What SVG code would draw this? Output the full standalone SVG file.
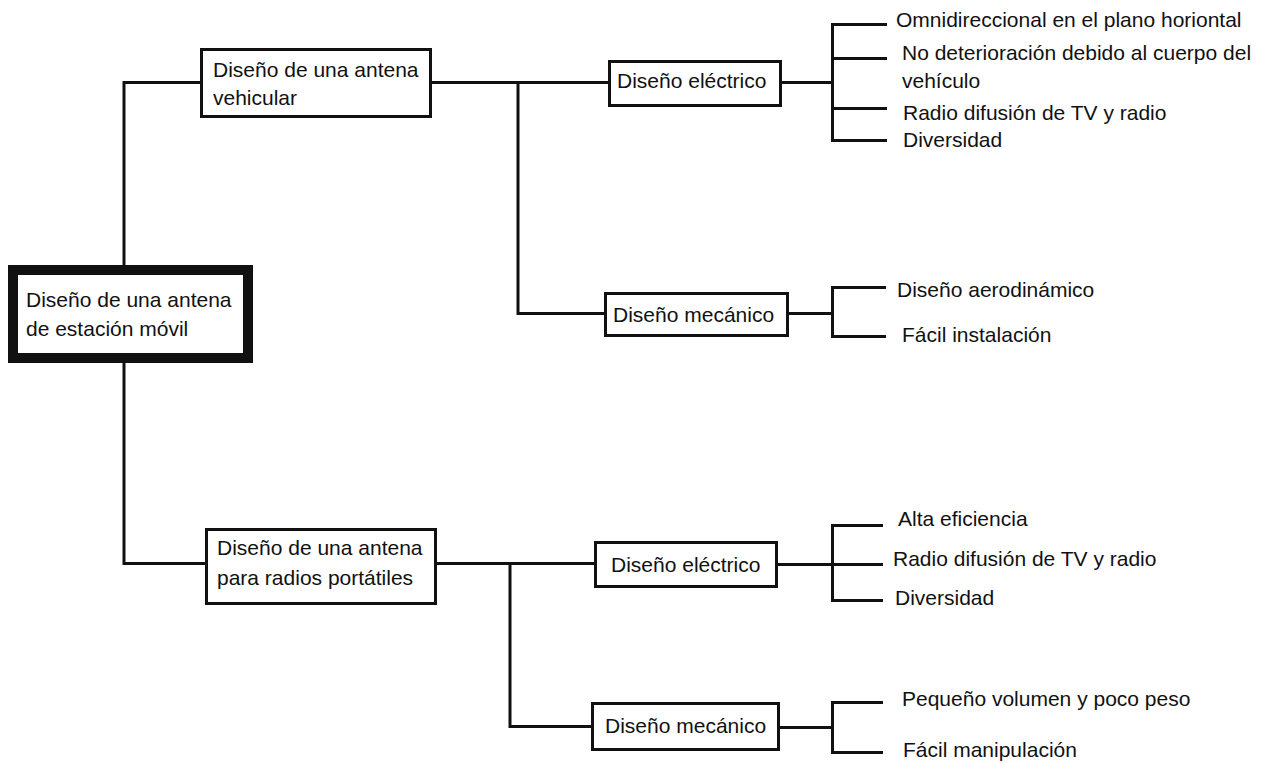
<svg xmlns="http://www.w3.org/2000/svg" width="1275" height="763" viewBox="0 0 1275 763">
<style>
.box{fill:#fff;stroke:#111;stroke-width:3}
.root{fill:#fff;stroke:#111;stroke-width:10}
.ln{fill:none;stroke:#111;stroke-width:3}
text{font-family:"Liberation Sans",Arial,sans-serif;font-size:21px;fill:#111}
</style>
<rect width="1275" height="763" fill="#fff"/>
<g id="connectors">
<path class="ln" d="M124,265 V82.5 H200"/>
<path class="ln" d="M124,363 V563.5 H205"/>
<path class="ln" d="M432,82.5 H608"/>
<path class="ln" d="M518,82.5 V313.5 H604"/>
<path class="ln" d="M782,82.5 H832"/>
<path class="ln" d="M887,24.5 H832.5 V140.5 H887"/>
<path class="ln" d="M832,58.5 H887"/>
<path class="ln" d="M832,108.5 H887"/>
<path class="ln" d="M789,313.5 H832"/>
<path class="ln" d="M886,287.5 H832.5 V336.5 H886"/>
<path class="ln" d="M437,563.5 H594"/>
<path class="ln" d="M510,563.5 V726.5 H591"/>
<path class="ln" d="M778,564.5 H832"/>
<path class="ln" d="M883,525.5 H832.5 V600.5 H883"/>
<path class="ln" d="M832,564.5 H883"/>
<path class="ln" d="M780,727.5 H832"/>
<path class="ln" d="M883,702.5 H832.5 V752.5 H883"/>
</g>
<g id="root">
<rect class="root" x="13" y="270" width="235" height="88"/>
<text x="26" y="307">Diseño de una antena</text>
<text x="26" y="336">de estación móvil</text>
</g>
<g id="vehicular">
<rect class="box" x="201.5" y="49.5" width="229" height="67"/>
<text x="213" y="77">Diseño de una antena</text>
<text x="213" y="105">vehicular</text>
</g>
<g id="veh-electrico">
<rect class="box" x="609.5" y="61.5" width="171" height="44"/>
<text x="617" y="88">Diseño eléctrico</text>
</g>
<g id="veh-mecanico">
<rect class="box" x="605.5" y="293.5" width="182" height="42"/>
<text x="613" y="322">Diseño mecánico</text>
</g>
<g id="veh-leaves">
<text x="896" y="27">Omnidireccional en el plano horiontal</text>
<text x="902" y="60">No deterioración debido al cuerpo del</text>
<text x="902" y="88">vehículo</text>
<text x="903" y="120">Radio difusión de TV y radio</text>
<text x="903" y="147">Diversidad</text>
<text x="897" y="297">Diseño aerodinámico</text>
<text x="902" y="342">Fácil instalación</text>
</g>
<g id="portatiles">
<rect class="box" x="206.5" y="529.5" width="229" height="74"/>
<text x="217" y="555">Diseño de una antena</text>
<text x="217" y="585">para radios portátiles</text>
</g>
<g id="por-electrico">
<rect class="box" x="595.5" y="542.5" width="181" height="44"/>
<text x="611" y="572">Diseño eléctrico</text>
</g>
<g id="por-mecanico">
<rect class="box" x="592.5" y="703.5" width="186" height="46"/>
<text x="605" y="733">Diseño mecánico</text>
</g>
<g id="por-leaves">
<text x="898" y="526">Alta eficiencia</text>
<text x="893" y="566">Radio difusión de TV y radio</text>
<text x="895" y="605">Diversidad</text>
<text x="902" y="706">Pequeño volumen y poco peso</text>
<text x="903" y="757">Fácil manipulación</text>
</g>
</svg>
